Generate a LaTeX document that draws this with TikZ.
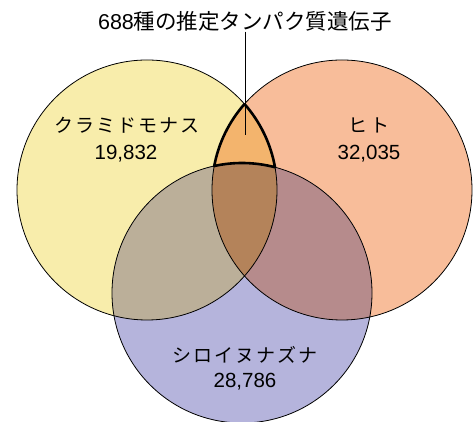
\documentclass[tikz,border=0pt]{standalone}
\usepackage{fontspec}
\newfontfamily\jp{Noto Sans CJK JP}
\newfontfamily\jpls[LetterSpace=10]{Noto Sans CJK JP}
\newfontfamily\num{Liberation Sans}
\definecolor{cYel}{HTML}{F8EDAB}
\definecolor{cSal}{HTML}{F8BD9A}
\definecolor{cLav}{HTML}{B5B4DC}
\definecolor{cAB}{HTML}{F3B46D}
\definecolor{cAC}{HTML}{BBAF99}
\definecolor{cBC}{HTML}{B68B8C}
\definecolor{cABC}{HTML}{B4835A}
\tikzset{
  ring/.style={draw=black, line width=0.8pt},
  bold/.style={draw=black, line width=2.6pt, line join=round},
  leader/.style={draw=black, line width=0.8pt},
  kana/.style={font=\jpls\fontsize{19}{19}\selectfont, inner sep=0pt, anchor=base},
  count/.style={font=\num\fontsize{20.5}{20.5}\selectfont, inner sep=0pt, anchor=base},
}
\begin{document}
\begin{tikzpicture}[x=1pt,y=1pt]
\useasboundingbox[fill=white] (0,0) rectangle (474,422);
\coordinate (A) at (147,232);
\coordinate (B) at (342,232);
\coordinate (C) at (242,129);
% base fills
\fill[cYel] (A) circle[radius=130];
\fill[cSal] (B) circle[radius=130];
\fill[cLav] (C) circle[radius=130];
% pairwise overlaps
\begin{scope}
  \clip (A) circle[radius=130];
  \fill[cAB] (B) circle[radius=130];
  \fill[cAC] (C) circle[radius=130];
\end{scope}
\begin{scope}
  \clip (B) circle[radius=130];
  \fill[cBC] (C) circle[radius=130];
\end{scope}
\begin{scope}
  \clip (A) circle[radius=130];
  \clip (B) circle[radius=130];
  \fill[cABC] (C) circle[radius=130];
\end{scope}
% outlines
\draw[ring] (A) circle[radius=130];
\draw[ring] (B) circle[radius=130];
\draw[ring] (C) circle[radius=130];
% highlighted region
\coordinate (T) at (244.5,317.986);
\draw[bold] (T) arc[start angle=138.591, end angle=169.362, radius=130]
  arc[start angle=102.332, end angle=75.296, radius=130]
  arc[start angle=10.076, end angle=41.409, radius=130] -- cycle;
% title and leader
\node[inner sep=0pt, anchor=base] (title) at (245,392.5)
  {{\num\fontsize{21.5}{21.5}\selectfont 688}{\jp\fontsize{21.5}{21.5}\selectfont 種の推定タンパク質遺伝子}};
\coordinate (tip) at (245,287);
\draw[leader] (title.south) -- (tip);
% labels
\node[kana] (chl) at (127,289.5) {クラミドモナス};
\node[count] (chln) at (126,262) {19,832};
\node[kana] (hum) at (369,289.5) {ヒ\hspace{4pt}ト};
\node[count] (humn) at (369,262) {32,035};
\node[kana] (ara) at (245,59.5) {シロイヌナズナ};
\node[count] (aran) at (245,34) {28,786};
\end{tikzpicture}
\end{document}
